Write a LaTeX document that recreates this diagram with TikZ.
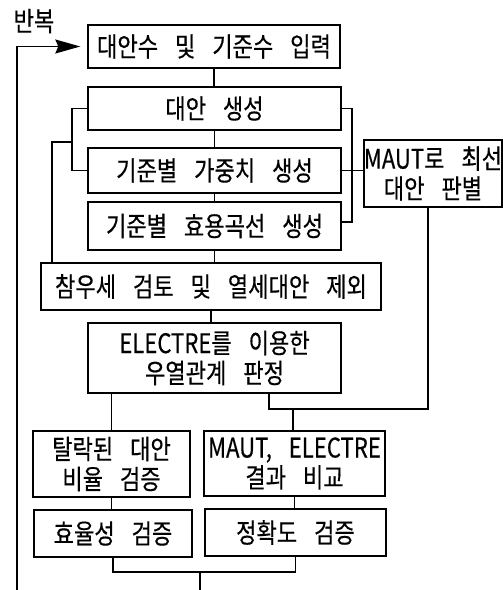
\documentclass[tikz,border=0pt]{standalone}
\usepackage{fontspec}
\setmainfont{Noto Sans CJK KR}[FakeStretch=0.82,WordSpace=3.4,FakeBold=0.4]
\usetikzlibrary{arrows.meta}
\begin{document}
\begin{tikzpicture}[x=1pt,y=-1pt,line width=1.4pt,
  every node/.style={font=\fontsize{27}{30}\selectfont},
  box/.style={draw,inner sep=0pt,align=center},
  conn/.style={line width=1.4pt}]
\useasboundingbox (0,0) rectangle (503,590);
\node (rep) at (34,21) {반복};
\node[box,minimum width=252,minimum height=43] (b1) at (214,46.5) {대안수 및 기준수 입력};
\node[box,minimum width=253,minimum height=43] (b2) at (214.5,108.5) {대안 생성};
\node[box,minimum width=253,minimum height=45] (b3) at (214.5,170.5) {기준별 가중치 생성};
\node[box,minimum width=253,minimum height=48] (b4) at (214.5,226) {기준별 효용곡선 생성};
\node[box,minimum width=340,minimum height=47] (b5) at (211,286.5) {참우세 검토 및 열세대안 제외};
\node[box,minimum width=253,minimum height=70] (b6) at (214.5,358) {ELECTRE를 이용한\\우열관계 판정};
\node[box,minimum width=136,minimum height=67] (m) at (433,173.5) {MAUT로 최선\\대안 판별};
\node[box,minimum width=157,minimum height=66] (b7) at (111.5,464) {탈락된 대안\\비율 검증};
\node[box,minimum width=181,minimum height=65] (b8) at (294.5,463.5) {MAUT, ELECTRE\\결과 비교};
\node[box,minimum width=158,minimum height=47] (b9) at (113,533.5) {효율성 검증};
\node[box,minimum width=181,minimum height=47] (b10) at (295.5,532.5) {정확도 검증};
% main chain
\draw[conn] (b1.south) -- (b1.south |- b2.north);
\draw[conn] (b2.south) -- (b2.south |- b3.north);
\draw[conn] (b3.south) -- (b3.south |- b4.north);
\draw[conn] (b4.south) -- (b4.south |- b5.north);
\draw[conn] (b5.south) -- (b5.south |- b6.north);
% left bracket
\coordinate (lx) at (72,0);
\coordinate (lj) at (72,142);
\coordinate (lk) at (52,142);
\draw[conn] (b2.west) -- (b2.west -| lx) -- (b3.west -| lx) -- (b3.west);
\draw[conn] (lj) -- (lk) -- (lk |- b5.north);
% right bracket
\coordinate (rx) at (352,0);
\draw[conn] (b2.east) -- (b2.east -| rx) -- ([yshift=4pt]b4.east -| rx) -- ([yshift=4pt]b4.east);
\draw[conn] (b3.east) -- (b3.east -| m.west);
% MAUT to merge
\coordinate (j1) at (269,409);
\coordinate (j2) at (428,409);
\coordinate (j3) at (293,409);
\draw[conn] (m.south -| j2) -- (j2) -- (j1) -- (j1 |- b6.south);
\draw[conn] (j3) -- (j3 |- b8.north);
\draw[conn] (b7.north |- b6.south) -- (b7.north);
\draw[conn] (b7.south) -- (b7.south |- b9.north);
\draw[conn] (b8.south) -- (b8.south |- b10.north);
\coordinate (j4) at (200,572);
\coordinate (bot) at (200,590);
\draw[conn] (b9.south) -- (b9.south |- j4) -- (j4 -| b10.south) -- (b10.south);
\draw[conn] (j4) -- (bot);
% loop back
\coordinate (lb) at (17,590);
\draw[conn,-{Stealth[length=25pt,width=14pt,inset=3pt]},shorten >=7pt] (lb) |- (b1.west);
\end{tikzpicture}
\end{document}
